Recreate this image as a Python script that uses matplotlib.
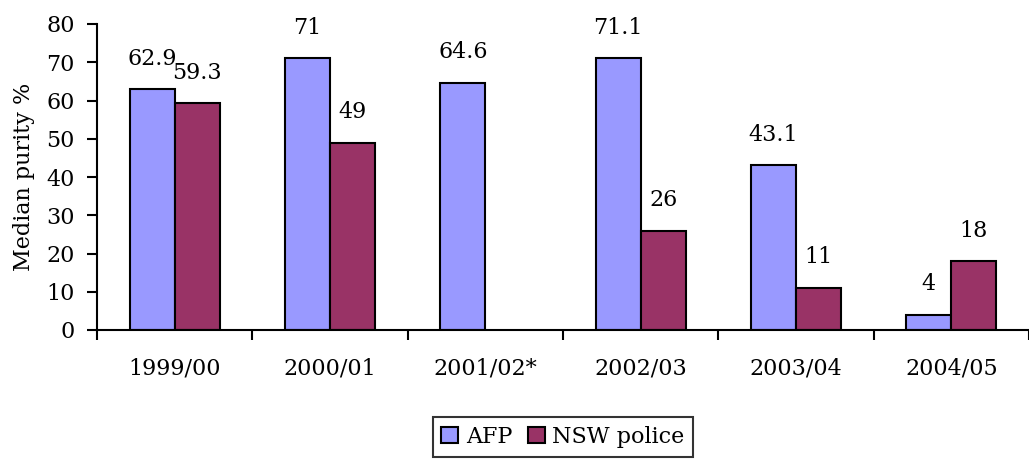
import numpy as np
import matplotlib.pyplot as plt

years = ['1999/00', '2000/01', '2001/02*', '2002/03', '2003/04', '2004/05']
afp = [62.9, 71, 64.6, 71.1, 43.1, 4]
nsw = [59.3, 49, np.nan, 26, 11, 18]

plt.rcParams['font.family'] = ['DejaVu Serif']
plt.rcParams['font.size'] = 16

fig = plt.figure(figsize=(10.29, 4.59), dpi=100)
ax = fig.add_axes([97 / 1029, 1 - 330 / 459, 1 - 97 / 1029, (330 - 24) / 459])

x = np.arange(len(years))
w = 0.29
b1 = ax.bar(x - w / 2, afp, w, color='#9999FF', edgecolor='black', linewidth=1.5, label='AFP')
b2 = ax.bar(x + w / 2, nsw, w, color='#993366', edgecolor='black', linewidth=1.5, label='NSW police')

for xi, v in zip(x, afp):
    ax.annotate(f'{v:g}', (xi - w / 2, v), xytext=(0, 14), textcoords='offset points',
                ha='center', va='bottom')
for xi, v in zip(x, nsw):
    if np.isnan(v):
        continue
    ax.annotate(f'{v:g}', (xi + w / 2, v), xytext=(0, 14), textcoords='offset points',
                ha='center', va='bottom')

ax.set_ylim(0, 80)
ax.set_yticks(range(0, 81, 10))
ax.set_xlim(-0.5, 4.5 + 149 / 156.5)
ax.set_xticks(x)
ax.set_xticklabels(years)
ax.set_xticks(np.arange(-0.5, 6, 1), minor=True)
ax.tick_params(axis='x', which='major', length=0, pad=20)
ax.tick_params(axis='x', which='minor', length=7, width=1.5, direction='out')
ax.tick_params(axis='y', length=7, width=1.5, direction='out', pad=9)

for s in ['top', 'right']:
    ax.spines[s].set_visible(False)
for s in ['left', 'bottom']:
    ax.spines[s].set_linewidth(1.5)

ax.set_ylabel('Median purity %', labelpad=8)

leg = ax.legend(loc='upper center', bbox_to_anchor=(0.5, -0.284), ncol=2, frameon=True,
                fancybox=False, edgecolor='black', handlelength=0.75, handleheight=0.75,
                handletextpad=0.35, columnspacing=0.7, borderpad=0.4, borderaxespad=0)
leg.get_frame().set_linewidth(1.5)

fig.savefig('out.png', dpi=100)
